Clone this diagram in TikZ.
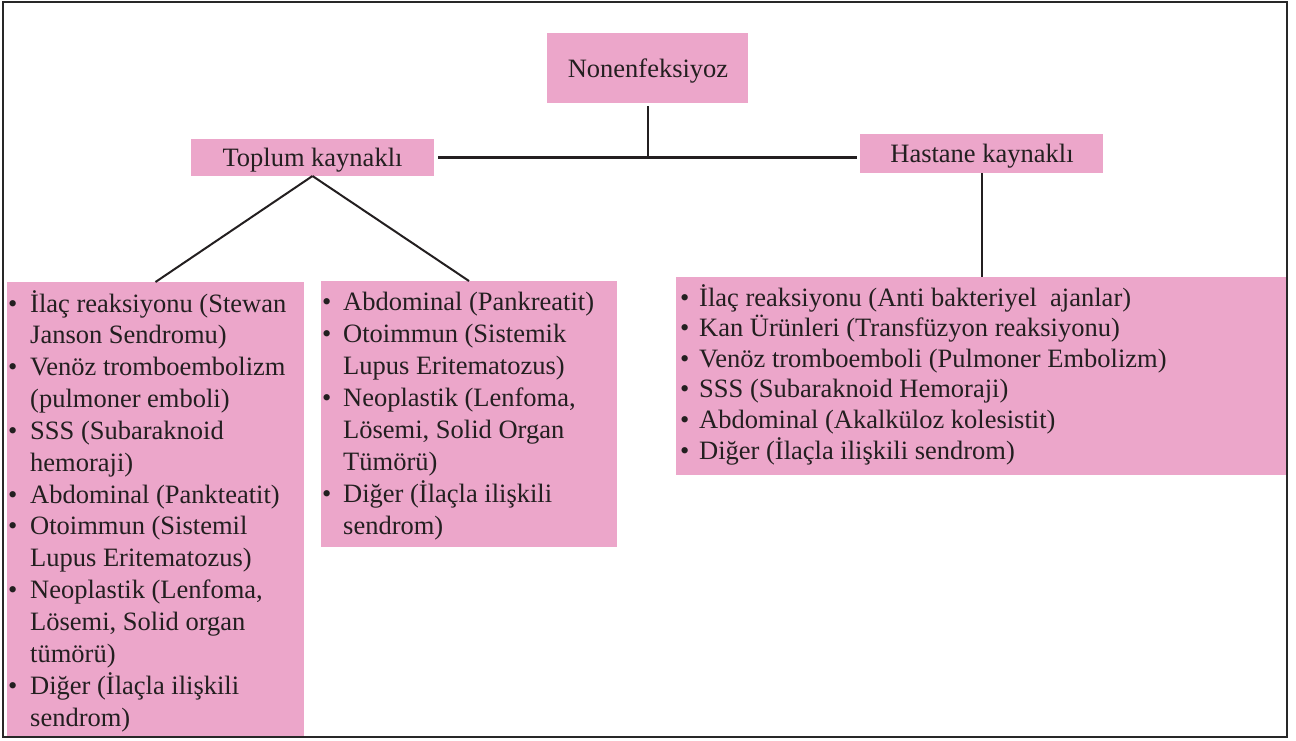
\documentclass[tikz,border=0pt]{standalone}
\usepackage{fontspec}
\setmainfont{Liberation Serif}
\usepackage{array}
\definecolor{pinkbox}{RGB}{236,166,202}
\definecolor{ink}{RGB}{35,31,32}
\definecolor{framec}{RGB}{40,40,40}
\begin{document}
\begin{tikzpicture}[x=1pt,y=-1pt,
  box/.style={fill=pinkbox,draw=none,inner sep=0pt,outer sep=0pt,anchor=north west},
  title/.style={font=\fontsize{26.5}{31}\selectfont,text=ink,inner sep=0pt,anchor=base},
  listtext/.style={anchor=base west,inner sep=0pt,text=ink},
  conn/.style={draw=ink,line width=2pt},
  hconn/.style={draw=ink,line width=3pt}]
\useasboundingbox (0,0) rectangle (1296,740);
% boxes
\node[box,minimum width=201pt,minimum height=70pt] (N) at (547,33) {};
\node[box,minimum width=243pt,minimum height=37pt] (T) at (191,139) {};
\node[box,minimum width=243pt,minimum height=39pt] (H) at (860,134) {};
\node[box,minimum width=297pt,minimum height=455pt] (L) at (7,282) {};
\node[box,minimum width=296pt,minimum height=266pt] (M) at (321,281) {};
\node[box,minimum width=611pt,minimum height=198pt] (R) at (676,277) {};
% titles
\node[title] (Nt) at (648,77.5) {Nonenfeksiyoz};
\node[title] (Tt) at (312.5,166.5) {Toplum kaynaklı};
\node[title] (Ht) at (982,162.5) {Hastane kaynaklı};
% lists
\node[listtext] (Lt) at (8,312) {\fontsize{26.5}{31.85}\selectfont
\begin{tabular}[t]{@{}p{22pt}@{}l@{}}
\textbullet & İlaç reaksiyonu (Stewan\\
 & Janson Sendromu)\\
\textbullet & Venöz tromboembolizm\\
 & (pulmoner emboli)\\
\textbullet & SSS (Subaraknoid\\
 & hemoraji)\\
\textbullet & Abdominal (Pankteatit)\\
\textbullet & Otoimmun (Sistemil\\
 & Lupus Eritematozus)\\
\textbullet & Neoplastik (Lenfoma,\\
 & Lösemi, Solid organ\\
 & tümörü)\\
\textbullet & Diğer (İlaçla ilişkili\\
 & sendrom)
\end{tabular}};
\node[listtext] (Mt) at (322,310) {\fontsize{26.5}{32.1}\selectfont
\begin{tabular}[t]{@{}p{21pt}@{}l@{}}
\textbullet & Abdominal (Pankreatit)\\
\textbullet & Otoimmun (Sistemik\\
 & Lupus Eritematozus)\\
\textbullet & Neoplastik (Lenfoma,\\
 & Lösemi, Solid Organ\\
 & Tümörü)\\
\textbullet & Diğer (İlaçla ilişkili\\
 & sendrom)
\end{tabular}};
\node[listtext] (Rt) at (680,306) {\fontsize{26.5}{30.5}\selectfont
\begin{tabular}[t]{@{}p{19pt}@{}l@{}}
\textbullet & İlaç reaksiyonu (Anti bakteriyel\ \ ajanlar)\\
\textbullet & Kan Ürünleri (Transfüzyon reaksiyonu)\\
\textbullet & Venöz tromboemboli (Pulmoner Embolizm)\\
\textbullet & SSS (Subaraknoid Hemoraji)\\
\textbullet & Abdominal (Akalküloz kolesistit)\\
\textbullet & Diğer (İlaçla ilişkili sendrom)
\end{tabular}};
% connectors
\coordinate (J) at (N.south |- T.east);
\draw[hconn,shorten <=4pt,shorten >=3pt] (T.east) -- (T.east -| H.west);
\draw[conn,shorten <=3pt] (N.south) -- (J);
\draw[conn] (T.south) -- (L.north);
\draw[conn] (T.south) -- (M.north);
\draw[conn] (H.south) -- (H.south |- R.north);
% frame
\draw[draw=framec,line width=2.5pt] (3,2) rectangle (1287,737);
\end{tikzpicture}
\end{document}
